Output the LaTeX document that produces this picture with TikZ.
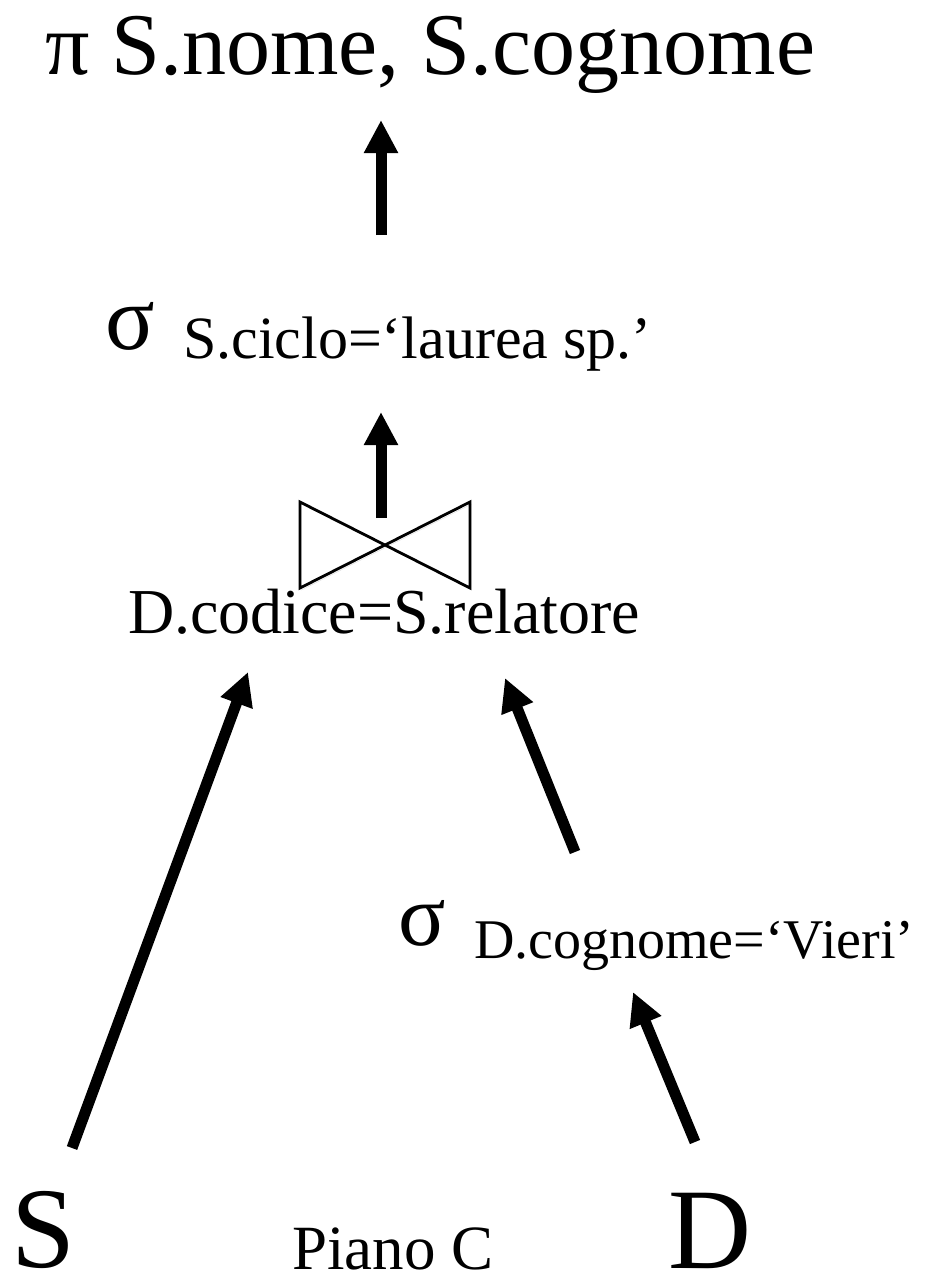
\documentclass[tikz,border=0pt]{standalone}
\usepackage{fontspec}
\setmainfont{Liberation Serif}
\usetikzlibrary{arrows.meta,shadows}
\begin{document}
\begin{tikzpicture}[x=1pt,y=-1pt,
  lbl/.style={inner sep=0pt,outer sep=0pt,anchor=base west,font=#1},
  flow/.style={line width=11pt,-{Triangle[width=32pt,length=33pt]}},
  bowtie/.style={line width=2.8pt,line join=miter}]
\useasboundingbox (0,0) rectangle (938,1279);
% texts
\node[lbl={\fontsize{88}{96}\selectfont}] (proj) at (45,75) {π S.nome, S.cognome};
\node[lbl={\fontsize{92}{96}\selectfont}] (sig1) at (105,349) {σ};
\node[lbl={\fontsize{60}{66}\selectfont}] (sel1) at (183,358) {S.ciclo=‘laurea sp.’};
\node[lbl={\fontsize{64}{70}\selectfont}] (join) at (128,633) {D.codice=S.relatore};
\node[lbl={\fontsize{88}{96}\selectfont}] (sig2) at (398,945) {σ};
\node[lbl={\fontsize{56}{62}\selectfont}] (sel2) at (474,958) {D.cognome=‘Vieri’};
\node[lbl={\fontsize{115}{120}\selectfont}] (S) at (11,1267) {S};
\node[lbl={\fontsize{115}{120}\selectfont}] (D) at (668,1268) {D};
\node[lbl={\fontsize{63}{70}\selectfont}] (piano) at (292,1269) {Piano C};
% bowtie join symbol
\coordinate (bt1) at (300,502);
\coordinate (bt2) at (470,588);
\coordinate (bt3) at (470,502);
\coordinate (bt4) at (300,588);
\draw[bowtie,drop shadow={shadow xshift=1.5pt,shadow yshift=-2pt,opacity=0.25,fill=none,draw=black!60}]
  (bt1) -- (bt2) -- (bt3) -- (bt4) -- cycle;
% arrow end points
\coordinate (a1s) at (381,235); \coordinate (a1e) at (381,120);
\coordinate (a2s) at (381,518); \coordinate (a2e) at (381,412);
\coordinate (a3s) at (72,1148); \coordinate (a3e) at (248,672);
\coordinate (a4s) at (575,852); \coordinate (a4e) at (505,678);
\coordinate (a5s) at (695,1142); \coordinate (a5e) at (633,992);
\draw[flow] (a1s) -- (a1e);
\draw[flow] (a2s) -- (a2e);
\draw[flow] (a3s) -- (a3e);
\draw[flow] (a4s) -- (a4e);
\draw[flow] (a5s) -- (a5e);
\end{tikzpicture}
\end{document}
